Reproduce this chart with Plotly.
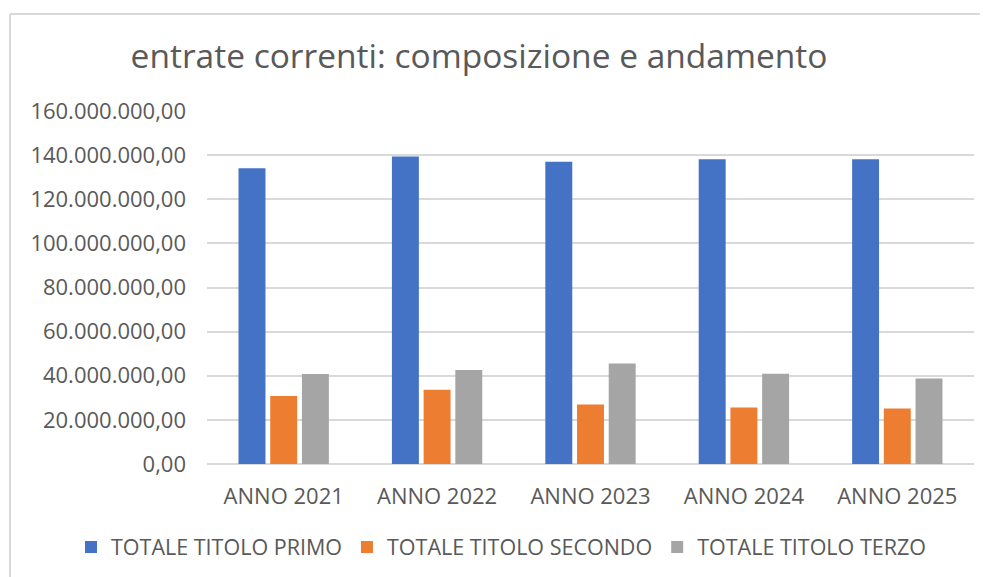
import plotly.graph_objects as go

categories = ["ANNO 2021", "ANNO 2022", "ANNO 2023", "ANNO 2024", "ANNO 2025"]
titolo_primo = [134_000_000, 139_400_000, 137_000_000, 138_100_000, 138_100_000]
titolo_secondo = [30_800_000, 33_600_000, 27_000_000, 25_600_000, 25_100_000]
titolo_terzo = [40_800_000, 42_600_000, 45_500_000, 40_900_000, 38_700_000]
series_names = ["TOTALE TITOLO PRIMO", "TOTALE TITOLO SECONDO", "TOTALE TITOLO TERZO"]
colors = ["#4472C4", "#ED7D31", "#A5A5A5"]
y_ticks = [0, 20_000_000, 40_000_000, 60_000_000, 80_000_000,
           100_000_000, 120_000_000, 140_000_000, 160_000_000]

FONT = "Open Sans"
TXT = "#595959"

fig = go.Figure()
for name, vals, col in zip(series_names, [titolo_primo, titolo_secondo, titolo_terzo], colors):
    fig.add_trace(go.Bar(
        x=categories, y=vals, name=name,
        marker=dict(color=col, line=dict(width=0)),
    ))

# page has an 8px body margin: figure coordinates = page coordinates - 8
OFF = 8
W, H = 988 - OFF, 577 - OFF
L, T = 207 - OFF, 111 - OFF
R = W - (974 - OFF)
B = H - (464 - OFF)
pw, ph = W - L - R, H - T - B

def px_x(page_x):
    return (page_x - OFF - L) / pw

def px_y(page_y):
    return (H - B - (page_y - OFF)) / ph

fig.update_layout(
    width=W, height=H,
    margin=dict(l=L, r=R, t=T, b=B, autoexpand=False),
    paper_bgcolor="white", plot_bgcolor="white",
    separators=",.",
    barmode="group", bargap=0.38, bargroupgap=0.15,
    font=dict(family=FONT, color=TXT, size=20),
    title=dict(
        text="entrate correnti: composizione e andamento",
        x=(479 - OFF) / W, xref="container", xanchor="center",
        y=1 - (56 - OFF) / H, yref="container", yanchor="middle",
        font=dict(family=FONT, size=33.5, color=TXT),
    ),
    legend=dict(
        orientation="h",
        x=px_x(71), xanchor="left",
        y=px_y(547), yanchor="middle",
        font=dict(family=FONT, size=21.5, color=TXT),
        traceorder="normal",
    ),
    xaxis=dict(
        showgrid=False, showline=False, ticks="",
        tickfont=dict(family=FONT, size=22, color=TXT),
        ticklabelstandoff=17,
    ),
    yaxis=dict(
        range=[0, 160_000_000], tickvals=y_ticks, tickformat=",.2f",
        showgrid=True, gridcolor="#D9D9D9", gridwidth=1.5,
        zeroline=True, zerolinecolor="#D9D9D9", zerolinewidth=1.5,
        showline=False, ticks="",
        tickfont=dict(family=FONT, size=22, color=TXT),
        ticklabelstandoff=20,
    ),
    shapes=[
        dict(type="line", xref="paper", yref="paper",
             x0=px_x(10), x1=px_x(995),
             y0=px_y(14), y1=px_y(14),
             line=dict(color="#D9D9D9", width=2)),
        dict(type="line", xref="paper", yref="paper",
             x0=px_x(10), x1=px_x(10),
             y0=px_y(14), y1=px_y(590),
             line=dict(color="#D9D9D9", width=2)),
    ],
)

fig.write_html("out.html")
